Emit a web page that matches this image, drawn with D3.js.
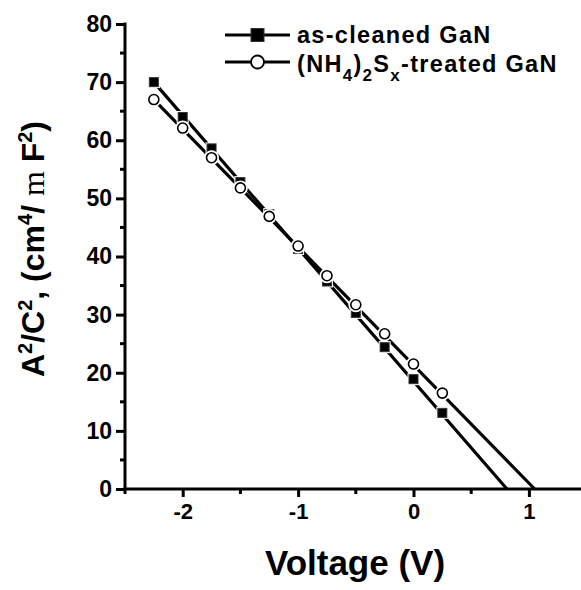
<!DOCTYPE html>
<html><head><meta charset="utf-8">
<script src="https://cdn.jsdelivr.net/npm/d3@7/dist/d3.min.js"></script>
<style>
html,body{margin:0;padding:0;background:#fff;}
svg{display:block;}
text{font-family:"Liberation Sans",Arial,sans-serif;font-weight:bold;fill:#000;}
</style></head>
<body>
<svg id="chart" width="581" height="590"></svg>
<script>
// ---- data ----
const voltages = [-2.25, -2.0, -1.75, -1.5, -1.25, -1.0, -0.75, -0.5, -0.25, 0.0, 0.25];
const asCleaned = [70.0, 64.0, 58.6, 52.8, 47.3, 41.3, 35.7, 30.3, 24.4, 18.9, 13.1];
const treated   = [67.0, 62.1, 57.0, 51.8, 46.9, 41.8, 36.7, 31.7, 26.7, 21.5, 16.5];
const fitIntercepts = [0.81, 1.05];   // x-intercepts of the extrapolated lines (V)
const seriesNames = ["as-cleaned GaN", "treated"];
const xTicks = [-2, -1, 0, 1];
const xMinorTicks = [-2.5, -1.5, -0.5, 0.5, 1.5];
const yTicks = [0, 10, 20, 30, 40, 50, 60, 70, 80];
const yMinorTicks = [5, 15, 25, 35, 45, 55, 65, 75];

const svg = d3.select("#chart");
const x = d3.scaleLinear().domain([-2.5, 1.5]).range([125, 586.6]);
const y = d3.scaleLinear().domain([0, 80]).range([489, 24]);

// axes
const xAxis = d3.axisBottom(x).tickValues(xTicks).tickSize(8).tickPadding(6)
  .tickFormat(d => d3.format("d")(d).replace("\u2212", "-"));
const gx = svg.append("g").attr("transform", `translate(0,${y(0)})`).call(xAxis);
gx.select(".domain").remove();
gx.append("line").attr("x1", x(-2.5) - 1.5).attr("x2", 581).attr("y1", 0).attr("y2", 0)
  .attr("stroke", "#000").attr("stroke-width", 3);
gx.selectAll(".tick line").attr("stroke-width", 3);
gx.selectAll(".tick text").attr("font-size", 22).attr("font-family", "Liberation Sans").attr("font-weight", "bold");
gx.selectAll(".minor").data(xMinorTicks).enter().append("line")
  .attr("x1", d => x(d)).attr("x2", d => x(d)).attr("y1", 0).attr("y2", 5)
  .attr("stroke", "#000").attr("stroke-width", 3);

const yAxis = d3.axisLeft(y).tickValues(yTicks).tickSize(9).tickPadding(4);
const gy = svg.append("g").attr("transform", `translate(${x(-2.5)},0)`).call(yAxis);
gy.select(".domain").remove();
gy.append("line").attr("x1", 0).attr("x2", 0).attr("y1", y(80) - 1.5).attr("y2", y(0) + 1.5)
  .attr("stroke", "#000").attr("stroke-width", 3);
gy.selectAll(".tick line").attr("stroke-width", 3);
gy.selectAll(".tick text").attr("font-size", 23).attr("font-family", "Liberation Sans").attr("font-weight", "bold");
gy.selectAll(".minor").data(yMinorTicks).enter().append("line")
  .attr("x1", -5).attr("x2", 0).attr("y1", d => y(d)).attr("y2", d => y(d))
  .attr("stroke", "#000").attr("stroke-width", 3);

// fitted lines: from first point down to x-intercept
const allSeries = [asCleaned, treated];
allSeries.forEach((vals, i) => {
  svg.append("line")
    .attr("x1", x(voltages[0])).attr("y1", y(vals[0]))
    .attr("x2", x(fitIntercepts[i])).attr("y2", y(0))
    .attr("stroke", "#000").attr("stroke-width", 3.2);
});

// markers (white halo gives the gap look)
const pts = voltages.map((v, i) => ({v, a: asCleaned[i], t: treated[i]}));
svg.selectAll(".sqh").data(pts).enter().append("rect")
  .attr("x", d => x(d.v) - 6).attr("y", d => y(d.a) - 6).attr("width", 12).attr("height", 12)
  .attr("fill", "#fff");
svg.selectAll(".sq").data(pts).enter().append("rect")
  .attr("x", d => x(d.v) - 4.5).attr("y", d => y(d.a) - 4.5).attr("width", 9).attr("height", 9)
  .attr("fill", "#000").attr("stroke", "#333").attr("stroke-width", 1);
svg.selectAll(".ch").data(pts).enter().append("circle")
  .attr("cx", d => x(d.v)).attr("cy", d => y(d.t)).attr("r", 7.5).attr("fill", "#fff");
svg.selectAll(".c").data(pts).enter().append("circle")
  .attr("cx", d => x(d.v)).attr("cy", d => y(d.t)).attr("r", 5)
  .attr("fill", "#fff").attr("stroke", "#000").attr("stroke-width", 1.6);

// legend
const leg = svg.append("g");
const rows = [35, 62];
rows.forEach((ry, i) => {
  leg.append("line").attr("x1", 225).attr("x2", 290).attr("y1", ry).attr("y2", ry)
    .attr("stroke", "#000").attr("stroke-width", 3.2);
});
leg.append("rect").attr("x", 251).attr("y", 35 - 6.5).attr("width", 13).attr("height", 13)
  .attr("fill", "#000").attr("stroke", "#333").attr("stroke-width", 1);
leg.append("circle").attr("cx", 257.5).attr("cy", 62).attr("r", 6.5)
  .attr("fill", "#fff").attr("stroke", "#000").attr("stroke-width", 1.8);
leg.append("text").attr("x", 297).attr("y", 43).attr("font-size", 23.5)
  .attr("letter-spacing", 1.3).text(seriesNames[0]);
const t2 = leg.append("text").attr("x", 297).attr("y", 71.5).attr("font-size", 23.5)
  .attr("letter-spacing", 1.3);
t2.append("tspan").text("(NH");
t2.append("tspan").attr("dy", 9).attr("font-size", 17).text("4");
t2.append("tspan").attr("dy", -9).text(")");
t2.append("tspan").attr("dy", 9).attr("font-size", 17).text("2");
t2.append("tspan").attr("dy", -9).text("S");
t2.append("tspan").attr("dy", 9).attr("font-size", 17).text("x");
t2.append("tspan").attr("dy", -9).text("-treated GaN");

// axis titles
svg.append("text").attr("x", 355).attr("y", 575).attr("text-anchor", "middle")
  .attr("font-size", 35).text("Voltage (V)");

const yt = svg.append("text").attr("transform", "translate(44,249) rotate(-90)")
  .attr("text-anchor", "middle").attr("font-size", 32);
yt.append("tspan").text("A");
yt.append("tspan").attr("dy", -12).attr("font-size", 20).text("2");
yt.append("tspan").attr("dy", 12).text("/C");
yt.append("tspan").attr("dy", -12).attr("font-size", 20).text("2");
yt.append("tspan").attr("dy", 12).text(", (cm");
yt.append("tspan").attr("dy", -12).attr("font-size", 20).text("4");
yt.append("tspan").attr("dy", 12).text("/ ");
yt.append("tspan").attr("font-family", "Liberation Serif").attr("font-weight", "normal").text("m");
yt.append("tspan").text(" F");
yt.append("tspan").attr("dy", -12).attr("font-size", 20).text("2");
yt.append("tspan").attr("dy", 12).text(")");
</script>
</body></html>
